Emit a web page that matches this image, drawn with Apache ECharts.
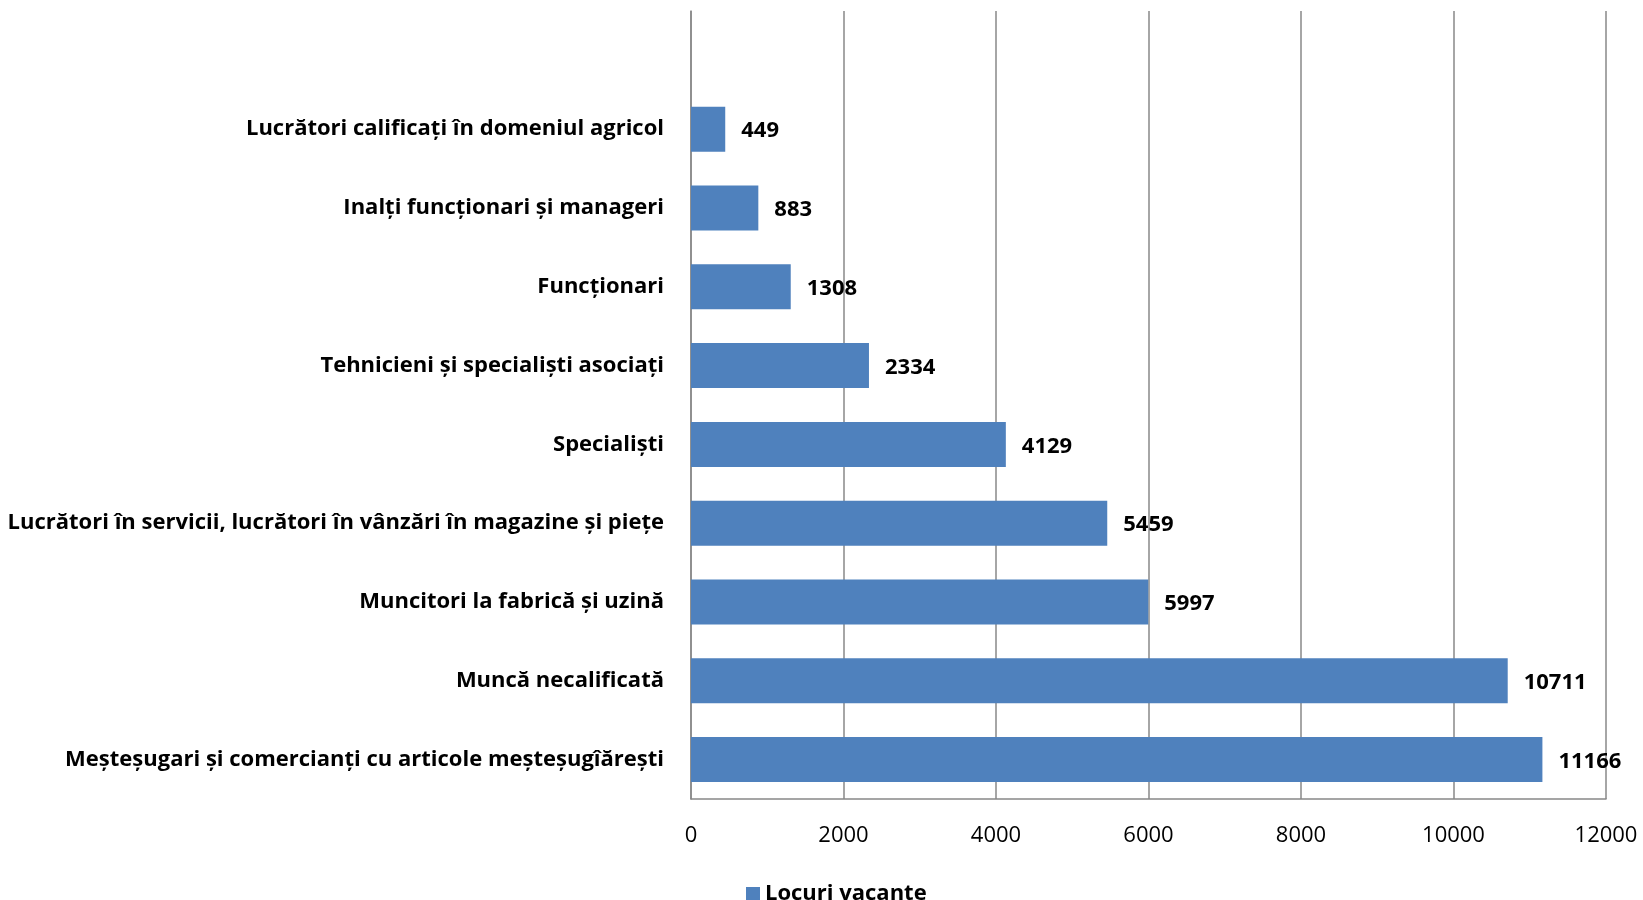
<!DOCTYPE html>
<html><head><meta charset="utf-8">
<script src="https://cdn.jsdelivr.net/npm/echarts@6/dist/echarts.min.js"></script>
<style>html,body{margin:0;padding:0;background:#fff}#c{width:1643px;height:900px}</style>
</head><body><div id="c"></div>
<script>
const categories = [
  '',
  'Lucrători calificați în domeniul agricol',
  'Inalți funcționari și manageri',
  'Funcționari',
  'Tehnicieni și specialiști asociați',
  'Specialiști',
  'Lucrători în servicii, lucrători în vânzări în magazine și piețe',
  'Muncitori la fabrică și uzină',
  'Muncă necalificată',
  'Meșteșugari și comercianți cu articole meșteșugîărești'
];
const values = [null, 449, 883, 1308, 2334, 4129, 5459, 5997, 10711, 11166];
const seriesName = 'Locuri vacante';
const xTicks = {min: 0, max: 12000, interval: 2000};

const font = '"Open Sans", sans-serif';
const chart = echarts.init(document.getElementById('c'), null, {renderer: 'canvas'});
chart.setOption({
  backgroundColor: '#fff',
  animation: false,
  textStyle: {fontFamily: font},
  grid: {left: 691, right: 37, top: 11, bottom: 101, containLabel: false},
  legend: {
    data: [seriesName], left: 741, top: 878, itemWidth: 14, itemHeight: 14, icon: 'rect', itemGap: 6,
    textStyle: {fontFamily: font, fontWeight: 'bold', fontSize: 22, color: '#000'}
  },
  xAxis: {
    type: 'value', min: xTicks.min, max: xTicks.max, interval: xTicks.interval,
    axisLine: {show: true, lineStyle: {color: '#888', width: 1.5}},
    axisTick: {show: false},
    splitLine: {show: true, lineStyle: {color: '#888', width: 1.5}},
    axisLabel: {color: '#000', fontSize: 22, fontFamily: font, margin: 26, formatter: v => String(v)}
  },
  yAxis: {
    type: 'category', data: categories, inverse: true,
    axisLine: {show: true, lineStyle: {color: '#888', width: 1.5}},
    axisTick: {show: false},
    splitLine: {show: false},
    axisLabel: {color: '#000', fontSize: 22, fontWeight: 'bold', fontFamily: font, margin: 27, padding: [4, 0, 0, 0]}
  },
  series: [{
    name: seriesName, type: 'bar', data: values, barWidth: 45,
    itemStyle: {color: '#4F81BD'},
    label: {show: true, position: 'right', distance: 16, offset: [0, 2], color: '#000', fontWeight: 'bold', fontSize: 22, fontFamily: font}
  }]
});
</script></body></html>
